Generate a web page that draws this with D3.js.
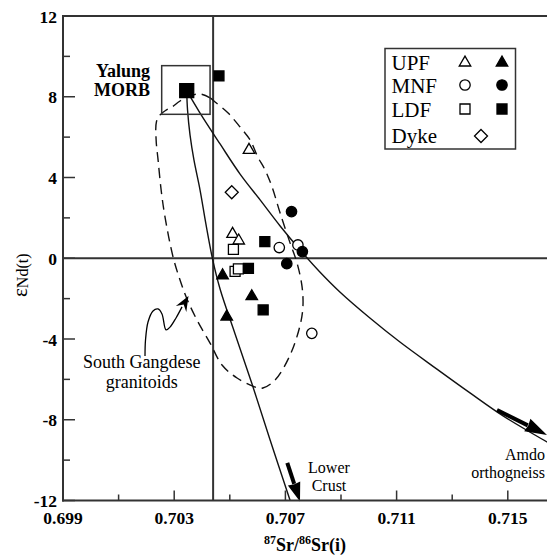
<!DOCTYPE html>
<html><head><meta charset="utf-8">
<script src="https://cdn.jsdelivr.net/npm/d3@7"></script>
<style>html,body{margin:0;padding:0;background:#fff;}svg{display:block;}</style>
</head><body>
<svg id="chart" width="547" height="557"></svg>
<script>
// ---------------- data ----------------
const xTickLabels = [0.699, 0.703, 0.707, 0.711, 0.715];
const yTickLabels = [-12, -8, -4, 0, 4, 8, 12];
const legendNames = ["UPF", "MNF", "LDF", "Dyke"];

const upfOpen   = [[0.70569, 5.36], [0.70510, 1.20], [0.70532, 0.87]];
const upfFilled = [[0.70474, -0.85], [0.70579, -1.89], [0.70489, -2.90]];
const mnfOpen   = [[0.70678, 0.53], [0.70745, 0.66], [0.70795, -3.72]];
const mnfFilled = [[0.70722, 2.31], [0.70761, 0.33], [0.70705, -0.27]];
const ldfOpen   = [[0.70513, 0.44], [0.70519, -0.65], [0.70531, -0.53]];
const ldfFilled = [[0.70461, 9.03], [0.70626, 0.82], [0.70567, -0.50], [0.70620, -2.56]];
const dyke      = [[0.70507, 3.27]];
const morb      = [[0.70345, 8.30]];
const morbBoxX  = [0.70255, 0.70429];
const morbBoxY  = [7.13, 9.54];

const refSr = 0.7044;   // vertical reference line
const refNd = 0;        // horizontal reference line

const lowerCrustCurve = [[0.70345,8.30],[0.70348,7.34],[0.70357,6.10],[0.70371,4.87],[0.70393,3.38],
  [0.70414,1.70],[0.70438,-0.04],[0.70465,-1.52],[0.70519,-3.75],[0.70580,-6.23],[0.70645,-9.00],[0.70717,-12.0]];
const amdoCurve = [[0.70345,8.30],[0.70393,7.19],[0.70465,5.66],[0.70537,4.17],[0.70609,2.89],[0.70681,1.60],
  [0.70753,0.41],[0.70824,-0.68],[0.70896,-1.67],[0.71004,-2.96],[0.71112,-4.15],[0.71245,-5.49],
  [0.71364,-6.67],[0.71483,-7.81],[0.71641,-9.10],[0.71724,-9.74]];
const gangdeseField = [[0.70393,8.14],[0.70429,7.94],[0.70447,7.74],[0.70494,7.19],[0.70537,6.50],[0.70573,5.86],
  [0.70601,5.01],[0.70627,4.37],[0.70652,3.53],[0.70681,2.24],[0.70717,0.75],[0.70742,-0.24],[0.70760,-1.42],
  [0.70763,-2.41],[0.70753,-3.31],[0.70717,-4.79],[0.70663,-6.03],[0.70619,-6.43],[0.70591,-6.38],[0.70526,-5.93],
  [0.70472,-5.29],[0.70429,-4.20],[0.70382,-3.06],[0.70346,-2.02],[0.70321,-1.08],[0.70296,0.06],[0.70267,2.04],
  [0.70253,3.38],[0.70242,4.87],[0.70235,5.86],[0.70236,6.75],[0.70249,7.10],[0.70271,7.34],[0.70292,7.49],
  [0.70321,7.79],[0.70357,8.04]];
const gangdeseArrow = [[0.701950,-4.84],[0.701968,-4.05],[0.702058,-3.16],[0.702237,-2.61],[0.702417,-2.51],
  [0.702561,-2.76],[0.702705,-3.55],[0.702849,-3.41],[0.703065,-2.96],[0.703281,-2.41],[0.703514,-1.87]];
const lowerCrustArrow = [[0.707068,-10.14],[0.707525,-12.05]];
const amdoArrow = [[0.714612,-7.52],[0.716410,-8.75]];

// ---------------- scales ----------------
const svg = d3.select("#chart");
const x = d3.scaleLinear().domain([0.699, 0.717]).range([63, 563.4]);
const y = d3.scaleLinear().domain([-12, 12]).range([500.5, 16]);
const FONT = "'Liberation Serif','Times New Roman',Times,serif";
const W = 547;

// reference lines
svg.append("line").attr("x1", x(0.699)).attr("x2", W).attr("y1", y(refNd)).attr("y2", y(refNd))
  .attr("stroke", "#333").attr("stroke-width", 2);
svg.append("line").attr("x1", x(refSr)).attr("x2", x(refSr)).attr("y1", y(12)).attr("y2", y(-12))
  .attr("stroke", "#333").attr("stroke-width", 2);

// curves
const line = d3.line().x(d => x(d[0])).y(d => y(d[1])).curve(d3.curveCatmullRom.alpha(0.5));
svg.append("path").attr("d", line(lowerCrustCurve)).attr("fill", "none").attr("stroke", "#111").attr("stroke-width", 1.4);
svg.append("path").attr("d", line(amdoCurve)).attr("fill", "none").attr("stroke", "#111").attr("stroke-width", 1.4);
const closed = d3.line().x(d => x(d[0])).y(d => y(d[1])).curve(d3.curveCatmullRomClosed.alpha(0.5));
svg.append("path").attr("d", closed(gangdeseField)).attr("fill", "none").attr("stroke", "#111")
  .attr("stroke-width", 1.4).attr("stroke-dasharray", "10,6");

// MORB box
svg.append("rect").attr("x", x(morbBoxX[0])).attr("y", y(morbBoxY[1]))
  .attr("width", x(morbBoxX[1]) - x(morbBoxX[0])).attr("height", y(morbBoxY[0]) - y(morbBoxY[1]))
  .attr("fill", "none").attr("stroke", "#333").attr("stroke-width", 1.5);

// arrows
function arrowHead(g, p1, p2, len, halfW, notch) {
  const dx = p2[0] - p1[0], dy = p2[1] - p1[1], L = Math.hypot(dx, dy);
  const ux = dx / L, uy = dy / L, nx = -uy, ny = ux;
  const bx = p2[0] - ux * len, by = p2[1] - uy * len;
  const pts = [[p2[0], p2[1]], [bx + nx * halfW, by + ny * halfW],
    [p2[0] - ux * len * (1 - notch), p2[1] - uy * len * (1 - notch)], [bx - nx * halfW, by - ny * halfW]];
  g.append("polygon").attr("points", pts.map(p => p.join(",")).join(" ")).attr("fill", "#000");
  return [bx + ux * len * notch * 0.5, by + uy * len * notch * 0.5];
}
function straightArrow(a, w, len, hw) {
  const p1 = [x(a[0][0]), y(a[0][1])], p2 = [x(a[1][0]), y(a[1][1])];
  const base = arrowHead(svg, p1, p2, len, hw, 0.05);
  svg.append("line").attr("x1", p1[0]).attr("y1", p1[1]).attr("x2", base[0]).attr("y2", base[1])
    .attr("stroke", "#000").attr("stroke-width", w);
}
straightArrow(lowerCrustArrow, 4, 19, 6.5);
straightArrow(amdoArrow, 4, 22, 7);
{
  const pts = gangdeseArrow.map(d => [x(d[0]), y(d[1])]);
  svg.append("path").attr("d", d3.line().curve(d3.curveCatmullRom)(pts.slice(0, -1)))
    .attr("fill", "none").attr("stroke", "#000").attr("stroke-width", 1.3);
  arrowHead(svg, pts[pts.length - 3], pts[pts.length - 1], 15, 6, 0.35);
}

// markers
const S = 10;
function triPath(s) { const h = s * Math.sqrt(3) / 2; return `M0,${-h*2/3}L${s/2},${h/3}L${-s/2},${h/3}Z`; }
function sqPath(s) { return `M${-s/2},${-s/2}h${s}v${s}h${-s}Z`; }
function diaPath(s) { return `M0,${-s/2}L${s/2},0L0,${s/2}L${-s/2},0Z`; }
function circPath(r) { return `M${r},0A${r},${r} 0 1,1 ${-r},0A${r},${r} 0 1,1 ${r},0Z`; }
const shapes = { tri: triPath(11.5), sq: sqPath(S), dia: diaPath(13), circ: circPath(5.2), big: sqPath(14) };
function plot(data, shape, filled) {
  svg.append("g").selectAll("path").data(data).join("path")
    .attr("transform", d => `translate(${x(d[0])},${y(d[1])})`)
    .attr("d", shapes[shape])
    .attr("fill", filled ? "#000" : "#fff").attr("stroke", "#000").attr("stroke-width", 1.3);
}
plot(upfOpen, "tri", false); plot(upfFilled, "tri", true);
plot(mnfOpen, "circ", false); plot(mnfFilled, "circ", true);
plot(ldfOpen, "sq", false); plot(ldfFilled, "sq", true);
plot(dyke, "dia", false); plot(morb, "big", true);

// axes frame
const frame = svg.append("g").attr("stroke", "#333").attr("stroke-width", 2);
frame.append("line").attr("x1", x(0.699)).attr("x2", x(0.699)).attr("y1", y(12) - 1).attr("y2", y(-12) + 1);
frame.append("line").attr("x1", x(0.699) - 1).attr("x2", W).attr("y1", y(12)).attr("y2", y(12));
frame.append("line").attr("x1", x(0.699) - 1).attr("x2", W).attr("y1", y(-12)).attr("y2", y(-12));

// ticks
const xMinor = d3.range(0, 10).map(i => 0.699 + i * 0.002);
svg.append("g").selectAll("line").data(xMinor).join("line")
  .attr("x1", d => x(d)).attr("x2", d => x(d)).attr("y1", y(-12))
  .attr("y2", d => y(-12) - (xTickLabels.some(t => Math.abs(t - d) < 1e-6) ? 10 : 6))
  .attr("stroke", "#333").attr("stroke-width", 1.5);
const yMinor = d3.range(-12, 13, 2);
svg.append("g").selectAll("line").data(yMinor).join("line")
  .attr("y1", d => y(d)).attr("y2", d => y(d)).attr("x1", x(0.699))
  .attr("x2", d => x(0.699) + (yTickLabels.includes(d) ? 12 : 7))
  .attr("stroke", "#333").attr("stroke-width", 1.5);

svg.append("g").selectAll("text").data(xTickLabels).join("text")
  .attr("x", d => x(d)).attr("y", 524).attr("text-anchor", "middle")
  .attr("font-family", FONT).attr("font-weight", "bold").attr("font-size", 17.5)
  .text(d => d3.format(".3f")(d));
svg.append("g").selectAll("text").data(yTickLabels).join("text")
  .attr("x", 57).attr("y", d => y(d) + 6.5).attr("text-anchor", "end")
  .attr("font-family", FONT).attr("font-weight", "bold").attr("font-size", 17.5)
  .text(d => d);

// axis titles
const xt = svg.append("text").attr("x", 305).attr("y", 551).attr("text-anchor", "middle")
  .attr("font-family", FONT).attr("font-weight", "bold").attr("font-size", 18);
xt.append("tspan").attr("font-size", 12).attr("dy", -7).text("87");
xt.append("tspan").attr("dy", 7).text("Sr/");
xt.append("tspan").attr("font-size", 12).attr("dy", -7).text("86");
xt.append("tspan").attr("dy", 7).text("Sr(i)");

const yt = svg.append("text").attr("transform", "translate(27,297) rotate(-90)")
  .attr("font-family", FONT).attr("font-size", 16);
yt.append("tspan").attr("font-size", 21).text("ε");
yt.append("tspan").attr("dy", 1).text("Nd(t)");

// annotations
function label(lines, xv, yvs, anchor, bold, size) {
  lines.forEach((t, i) => svg.append("text").attr("x", x(xv)).attr("y", y(yvs[i]))
    .attr("text-anchor", anchor).attr("font-family", FONT).attr("font-size", size)
    .attr("font-weight", bold ? "bold" : "normal").text(t));
}
label(["Yalung", "MORB"], 0.70213, [8.96, 8.05], "end", true, 18);
label(["South Gangdese", "granitoids"], 0.70183, [-5.45, -6.44], "middle", false, 18);
label(["Lower", "Crust"], 0.708568, [-10.64, -11.53], "middle", false, 16);
label(["Amdo", "orthogneiss"], 0.716338, [-9.99, -10.88], "end", false, 16);

// legend
const lg = svg.append("g");
lg.append("rect").attr("x", 385).attr("y", 48.5).attr("width", 130.5).attr("height", 100.5)
  .attr("fill", "#fff").attr("stroke", "#333").attr("stroke-width", 1.5);
const rowY = [62.7, 85, 109, 136];
const baseY = [70, 92.5, 116.5, 143];
legendNames.forEach((n, i) => lg.append("text").attr("x", 391.5).attr("y", baseY[i])
  .attr("font-family", FONT).attr("font-size", 21).text(n));
const legShapes = [["tri", "tri"], ["circ", "circ"], ["sq", "sq"]];
legShapes.forEach((s, i) => {
  lg.append("path").attr("transform", `translate(465,${rowY[i]})`).attr("d", shapes[s[0]])
    .attr("fill", "#fff").attr("stroke", "#000").attr("stroke-width", 1.3);
  lg.append("path").attr("transform", `translate(502,${rowY[i]})`).attr("d", shapes[s[1]])
    .attr("fill", "#000").attr("stroke", "#000").attr("stroke-width", 1.3);
});
lg.append("path").attr("transform", `translate(481,${rowY[3]})`).attr("d", shapes.dia)
  .attr("fill", "#fff").attr("stroke", "#000").attr("stroke-width", 1.3);
</script>
</body></html>
